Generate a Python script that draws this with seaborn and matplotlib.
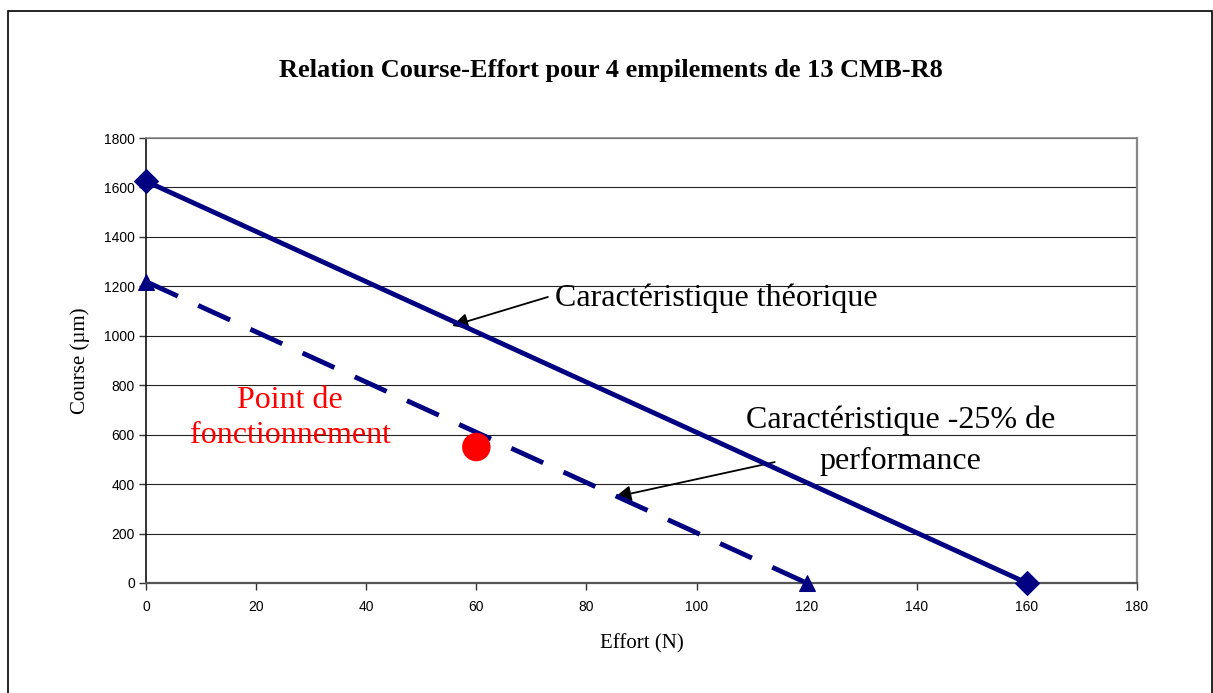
import matplotlib
matplotlib.use("Agg")
import matplotlib.pyplot as plt
from matplotlib.patches import Rectangle
import seaborn as sns
import pandas as pd

# Course-effort characteristics of the stack
effort_theorique = [0, 160]
course_theorique = [1625, 0]
effort_reduite = [0, 120]
course_reduite = [1219, 0]
point_effort = [60]
point_course = [550]

x_ticks = [0, 20, 40, 60, 80, 100, 120, 140, 160, 180]
y_ticks = [0, 200, 400, 600, 800, 1000, 1200, 1400, 1600, 1800]

sns.set_theme(style="white")
plt.rcParams["font.family"] = ["Liberation Serif", "DejaVu Serif"]

navy = "#000080"

fig = plt.figure(figsize=(12.13, 6.93), dpi=100)
ax = fig.add_axes([146 / 1213, 1 - 583 / 693, (1137 - 146) / 1213, (583 - 138) / 693])

# outer chart frame
fig.patches.append(Rectangle((8 / 1213, -0.05), (1212 - 8) / 1213, 1 - 11 / 693 + 0.05,
                             transform=fig.transFigure, fill=False,
                             edgecolor="black", linewidth=1.2, zorder=0))

df_t = pd.DataFrame({"Effort": effort_theorique, "Course": course_theorique})
df_r = pd.DataFrame({"Effort": effort_reduite, "Course": course_reduite})
df_p = pd.DataFrame({"Effort": point_effort, "Course": point_course})

sns.lineplot(data=df_t, x="Effort", y="Course", ax=ax, color=navy, linewidth=3.5,
             marker="D", markersize=12, markeredgecolor=navy, clip_on=False, zorder=5)
sns.lineplot(data=df_r, x="Effort", y="Course", ax=ax, color=navy, linewidth=3.5,
             marker="^", markersize=11, markeredgecolor=navy, clip_on=False, zorder=5)
ax.lines[-1].set_linestyle((0, (7.2, 4.6)))
ax.lines[-1].set_dash_capstyle("butt")
sns.scatterplot(data=df_p, x="Effort", y="Course", ax=ax, color="#ff0000", s=420,
                edgecolor="none", zorder=6)

ax.set_xlim(0, 180)
ax.set_ylim(0, 1800)
ax.set_xticks(x_ticks)
ax.set_yticks(y_ticks)
ax.set_xticklabels([str(v) for v in x_ticks], family="Liberation Sans", fontsize=10)
ax.set_yticklabels([str(v) for v in y_ticks], family="Liberation Sans", fontsize=10)
ax.tick_params(axis="x", direction="out", length=5, width=1, color="#333333",
               bottom=True, pad=7, labelcolor="black")
ax.tick_params(axis="y", direction="out", length=5, width=1, color="#333333",
               left=True, pad=3, labelcolor="black")
ax.grid(axis="y", color="#222222", linewidth=0.8)
ax.grid(axis="x", visible=False)
ax.set_axisbelow(True)
ax.spines["left"].set_color("#111111")
ax.spines["left"].set_linewidth(1.2)
ax.spines["bottom"].set_color("#555555")
ax.spines["bottom"].set_linewidth(1.6)
ax.spines["right"].set_color("#888888")
ax.spines["right"].set_linewidth(1.6)
ax.spines["top"].set_color("#888888")
ax.spines["top"].set_linewidth(1.2)

ax.set_xlabel("Effort (N)", fontsize=15, labelpad=15, color="black")
ax.set_ylabel("Course (µm)", fontsize=15, labelpad=10, color="black")

fig.text(611 / 1213, 1 - 70 / 693, "Relation Course-Effort pour 4 empilements de 13 CMB-R8",
         ha="center", va="center", fontsize=19, fontweight="bold", color="black")

arrow_kw = dict(arrowstyle="-|>", color="black", lw=1.3, mutation_scale=24,
                shrinkA=0, shrinkB=0)

ax.text(74.3, 1150, "Caractéristique théorique", fontsize=23, ha="left", va="center",
        color="black")
ax.annotate("", xy=(55.6, 1040), xytext=(73.0, 1157), arrowprops=arrow_kw)

ax.text(137, 574, "Caractéristique -25% de\nperformance", fontsize=23, ha="center",
        va="center", color="black", linespacing=1.55)
ax.annotate("", xy=(85.2, 348), xytext=(114.2, 489), arrowprops=arrow_kw)

ax.text(26.2, 667, "Point de\nfonctionnement", fontsize=23, color="#ff0000",
        ha="center", va="center", linespacing=1.26)

fig.savefig("out.png", dpi=100)
